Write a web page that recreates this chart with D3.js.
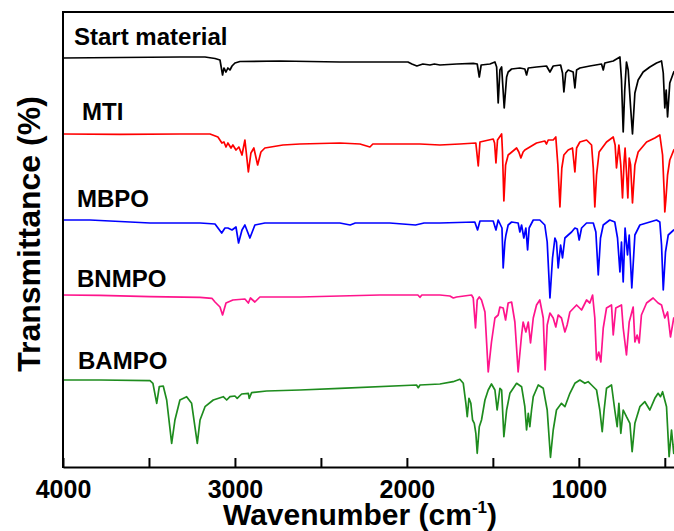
<!DOCTYPE html>
<html>
<head>
<meta charset="utf-8">
<script src="https://cdn.jsdelivr.net/npm/d3@7"></script>
<style>
  html, body { margin: 0; padding: 0; background: #ffffff; }
  svg { display: block; }
  text { font-family: "Liberation Sans", Arial, Helvetica, sans-serif; font-weight: bold; fill: #000; }
</style>
</head>
<body>
<div id="chart"></div>
<script>
// ---------------- DATA ----------------
const seriesNames = ["Start material", "MTI", "MBPO", "BNMPO", "BAMPO"];
const seriesColors = ["#000000", "#ff0000", "#0000ff", "#ff148c", "#1e8c1e"];

const xTickValues = [4000, 3500, 3000, 2500, 2000, 1500, 1000, 500];
const xTickLabels = ["4000", "", "3000", "", "2000", "", "1000", ""];

// [wavenumber (cm-1), offset transmittance (a.u.)]
const startMaterial = [[4000,407],[3669,407.5],[3320,408],[3174,408],[3116,406.5],[3087,405],[3072,390],[3064,397],[3052,393],[3041,397],[3029,395],[3017,399],[3000,402],[2971,403.5],[2738,404],[2390,403],[1994,403],[1971,401],[1942,399],[1907,401],[1866,400],[1840,401],[1808,400],[1711,401],[1614,401.7],[1591,401],[1579,388],[1568,400],[1517,401],[1488,403],[1478,398],[1469,362],[1459,395],[1449,398],[1434,357],[1420,388],[1411,393],[1391,396],[1343,397],[1314,396],[1304,390],[1294,397],[1246,398],[1188,399],[1168,393],[1149,399],[1106,400],[1095,392],[1087,373],[1076,392],[1062,395],[1033,393],[1023,377],[1013,395],[994,397],[936,399],[868,401],[858,395],[849,402],[800,404],[761,408],[752,385],[742,333],[733,375],[723,403],[713,395],[699,358],[688,331],[674,372],[655,385],[626,393],[587,398],[548,402],[519,404],[509,392],[500,357],[492,375],[484,348],[471,382],[448,393],[400,400]];

const mti = [[4000,331],[3669,330.7],[3320,331],[3145,331],[3099,328],[3076,322],[3064,323],[3052,318],[3041,322],[3023,317],[3012,320],[2994,315],[2977,318],[2959,310],[2942,325],[2922,293],[2907,312],[2890,317],[2868,300],[2849,313],[2826,317],[2721,320],[2622,321],[2390,322],[2273,321],[2215,318],[2198,321],[1924,321],[1808,320],[1692,321],[1599,322],[1585,299],[1575,323],[1498,326],[1490,322],[1482,302],[1473,325],[1449,331],[1444,313],[1436,264],[1426,300],[1411,310],[1362,317],[1349,313],[1337,307],[1324,313],[1314,315],[1246,322],[1198,324],[1188,321],[1178,325],[1149,325],[1134,328],[1122,300],[1110,258],[1099,297],[1087,310],[1062,315],[1037,317],[1023,293],[1013,317],[994,323],[955,325],[926,320],[916,297],[907,258],[897,290],[882,313],[839,323],[800,328],[789,320],[781,297],[767,320],[756,300],[746,267],[737,303],[731,317],[723,293],[715,267],[707,307],[699,300],[688,262],[674,300],[655,313],[606,323],[558,327],[529,330],[513,310],[503,270],[500,253],[494,265],[484,290],[471,305],[448,315],[400,320]];

const mbpo = [[4000,245],[3843,245],[3610,243],[3494,242],[3203,242],[3116,241],[3077,232],[3058,237],[3041,237],[3017,235],[2994,238],[2979,222],[2959,235],[2942,240],[2913,227],[2884,240],[2826,242],[2593,242],[2390,242],[2330,240],[2300,242],[2100,242],[1950,240],[1900,242],[1808,242],[1605,243],[1589,235],[1575,244],[1498,244],[1482,235],[1469,245],[1447,237],[1440,197],[1430,223],[1424,230],[1411,240],[1391,243],[1353,242],[1343,233],[1333,240],[1320,227],[1308,237],[1298,215],[1289,237],[1265,245],[1227,245],[1198,240],[1184,223],[1168,167],[1153,207],[1139,227],[1130,223],[1120,197],[1106,220],[1095,207],[1081,227],[1062,230],[1042,233],[1023,237],[1009,236],[998,225],[984,237],[955,242],[916,242],[901,233],[887,190],[874,227],[858,240],[820,245],[791,243],[775,227],[761,193],[752,223],[742,183],[731,237],[717,210],[707,230],[692,177],[674,230],[645,240],[548,245],[529,243],[519,220],[509,175],[496,213],[480,230],[448,235],[400,238]];

const bnmpo = [[4000,170],[3785,169.7],[3494,168.3],[3203,167.7],[3134,166.7],[3116,163],[3087,158],[3072,150],[3052,162],[3012,165],[2942,166],[2922,162],[2910,167],[2884,163],[2855,168],[2622,168],[2390,169],[2157,170],[1936,170],[1924,167.7],[1913,170],[1808,170],[1750,169],[1730,167],[1711,168],[1624,170],[1614,167],[1601,137],[1591,165],[1579,168],[1566,165],[1546,153],[1527,93],[1508,123],[1488,147],[1469,150],[1459,158],[1440,157],[1426,145],[1411,162],[1391,163],[1372,143],[1353,93],[1333,130],[1324,143],[1308,133],[1294,143],[1281,122],[1265,147],[1246,160],[1227,165],[1207,147],[1196,95],[1184,140],[1168,152],[1149,147],[1134,138],[1120,150],[1101,147],[1081,133],[1068,140],[1052,153],[1013,160],[984,155],[955,165],[936,162],[920,170],[907,147],[897,105],[884,113],[872,103],[858,137],[839,157],[810,160],[800,130],[785,157],[752,160],[742,137],[723,110],[707,143],[684,158],[674,123],[661,130],[649,122],[636,150],[606,162],[568,167],[539,162],[519,160],[500,147],[484,153],[467,128],[448,147],[400,150]];

const bampo = [[4000,85],[3785,85],[3494,84.3],[3477,81.7],[3455,61.7],[3440,78.3],[3417,79],[3397,65],[3368,21.7],[3349,45],[3320,65],[3281,68.3],[3252,61.7],[3219,21.7],[3203,45],[3174,58.3],[3126,65],[3068,68.3],[3048,65],[3029,68.3],[3000,69],[2987,66.7],[2961,71],[2922,71.7],[2917,66.7],[2903,72.3],[2816,74],[2622,75],[2390,76.7],[1944,80],[1934,77.3],[1924,80],[1808,81],[1731,83.3],[1692,85.7],[1672,81.7],[1657,61.7],[1649,48.3],[1639,66.7],[1628,61.7],[1618,45],[1608,41.7],[1599,31.7],[1591,11.7],[1579,38.3],[1566,45],[1546,65],[1527,75],[1508,81],[1488,75],[1475,55],[1459,76.7],[1449,75],[1436,28.3],[1420,55],[1401,71.7],[1362,81.7],[1333,78.3],[1314,58.3],[1304,35],[1294,51.7],[1285,38.3],[1275,55],[1265,68.3],[1236,80],[1207,76.7],[1184,55],[1165,7.7],[1149,35],[1130,55],[1101,61.7],[1081,58.3],[1052,71.7],[1023,81.7],[994,85],[965,81.7],[946,83.3],[926,80],[897,75],[878,55],[864,33.3],[853,55],[839,76.7],[810,80],[791,55],[777,38.3],[767,61.7],[756,31.7],[742,55],[723,48.3],[703,41.7],[690,13.3],[674,41.7],[645,58.3],[616,63.3],[587,55],[558,66.7],[539,71.7],[525,68.3],[513,73.3],[490,58.3],[475,8.3],[461,35],[448,11.7],[430,40],[400,60]];

const seriesData = [startMaterial, mti, mbpo, bnmpo, bampo];

// ---------------- LAYOUT ----------------
const W = 674, H = 531;
const mLeft = 63, mTop = 12, mBottom = 467, mRight = 682;
const labelPos = [[74, 45], [82, 120], [77, 207], [77, 287], [78, 369]];

const svg = d3.select("#chart").append("svg")
  .attr("width", W).attr("height", H)
  .attr("viewBox", `0 0 ${W} ${H}`);

svg.append("rect").attr("width", W).attr("height", H).attr("fill", "#ffffff");

const x = d3.scaleLinear().domain([4000, 400]).range([mLeft, mRight]);
const y = d3.scaleLinear().domain([-2, 453]).range([mBottom, mTop]);

svg.append("clipPath").attr("id", "plotClip")
  .append("rect").attr("x", mLeft).attr("y", mTop).attr("width", mRight - mLeft).attr("height", mBottom - mTop);

const line = d3.line().x(d => x(d[0])).y(d => y(d[1])).curve(d3.curveLinear);

svg.append("g").attr("clip-path", "url(#plotClip)")
  .selectAll("path").data(seriesData).join("path")
  .attr("d", d => line(d))
  .attr("fill", "none")
  .attr("stroke", (d, i) => seriesColors[i])
  .attr("stroke-width", 1.7)
  .attr("stroke-linejoin", "round");

svg.append("line").attr("x1", mLeft).attr("x2", mRight).attr("y1", mTop).attr("y2", mTop)
  .attr("stroke", "#000").attr("stroke-width", 2);
svg.append("line").attr("x1", mLeft).attr("x2", mLeft).attr("y1", mTop - 1).attr("y2", mBottom + 1)
  .attr("stroke", "#000").attr("stroke-width", 2);

const xAxis = d3.axisBottom(x)
  .tickValues(xTickValues)
  .tickFormat((d, i) => xTickLabels[i])
  .tickSizeInner(-9)
  .tickSizeOuter(0)
  .tickPadding(13);

const gx = svg.append("g").attr("transform", `translate(0,${mBottom})`).call(xAxis);
gx.select(".domain").attr("stroke", "#000").attr("stroke-width", 2);
gx.selectAll(".tick line").attr("stroke", "#000").attr("stroke-width", 2);
gx.selectAll(".tick text")
  .attr("font-family", "'Liberation Sans', Arial, sans-serif")
  .attr("font-weight", "bold")
  .attr("font-size", 25)
  .attr("fill", "#000");

svg.append("g").selectAll("text").data(seriesNames).join("text")
  .attr("x", (d, i) => labelPos[i][0])
  .attr("y", (d, i) => labelPos[i][1])
  .attr("font-size", 24)
  .text(d => d);

const xt = svg.append("text")
  .attr("x", 360).attr("y", 525)
  .attr("text-anchor", "middle")
  .attr("font-size", 30);
xt.append("tspan").text("Wavenumber (cm");
xt.append("tspan").attr("font-size", 17).attr("dy", -12).text("-1");
xt.append("tspan").attr("dy", 12).text(")");

svg.append("text")
  .attr("transform", "translate(40,234) rotate(-90)")
  .attr("text-anchor", "middle")
  .attr("font-size", 32)
  .text("Transmittance (%)");
</script>
</body>
</html>
